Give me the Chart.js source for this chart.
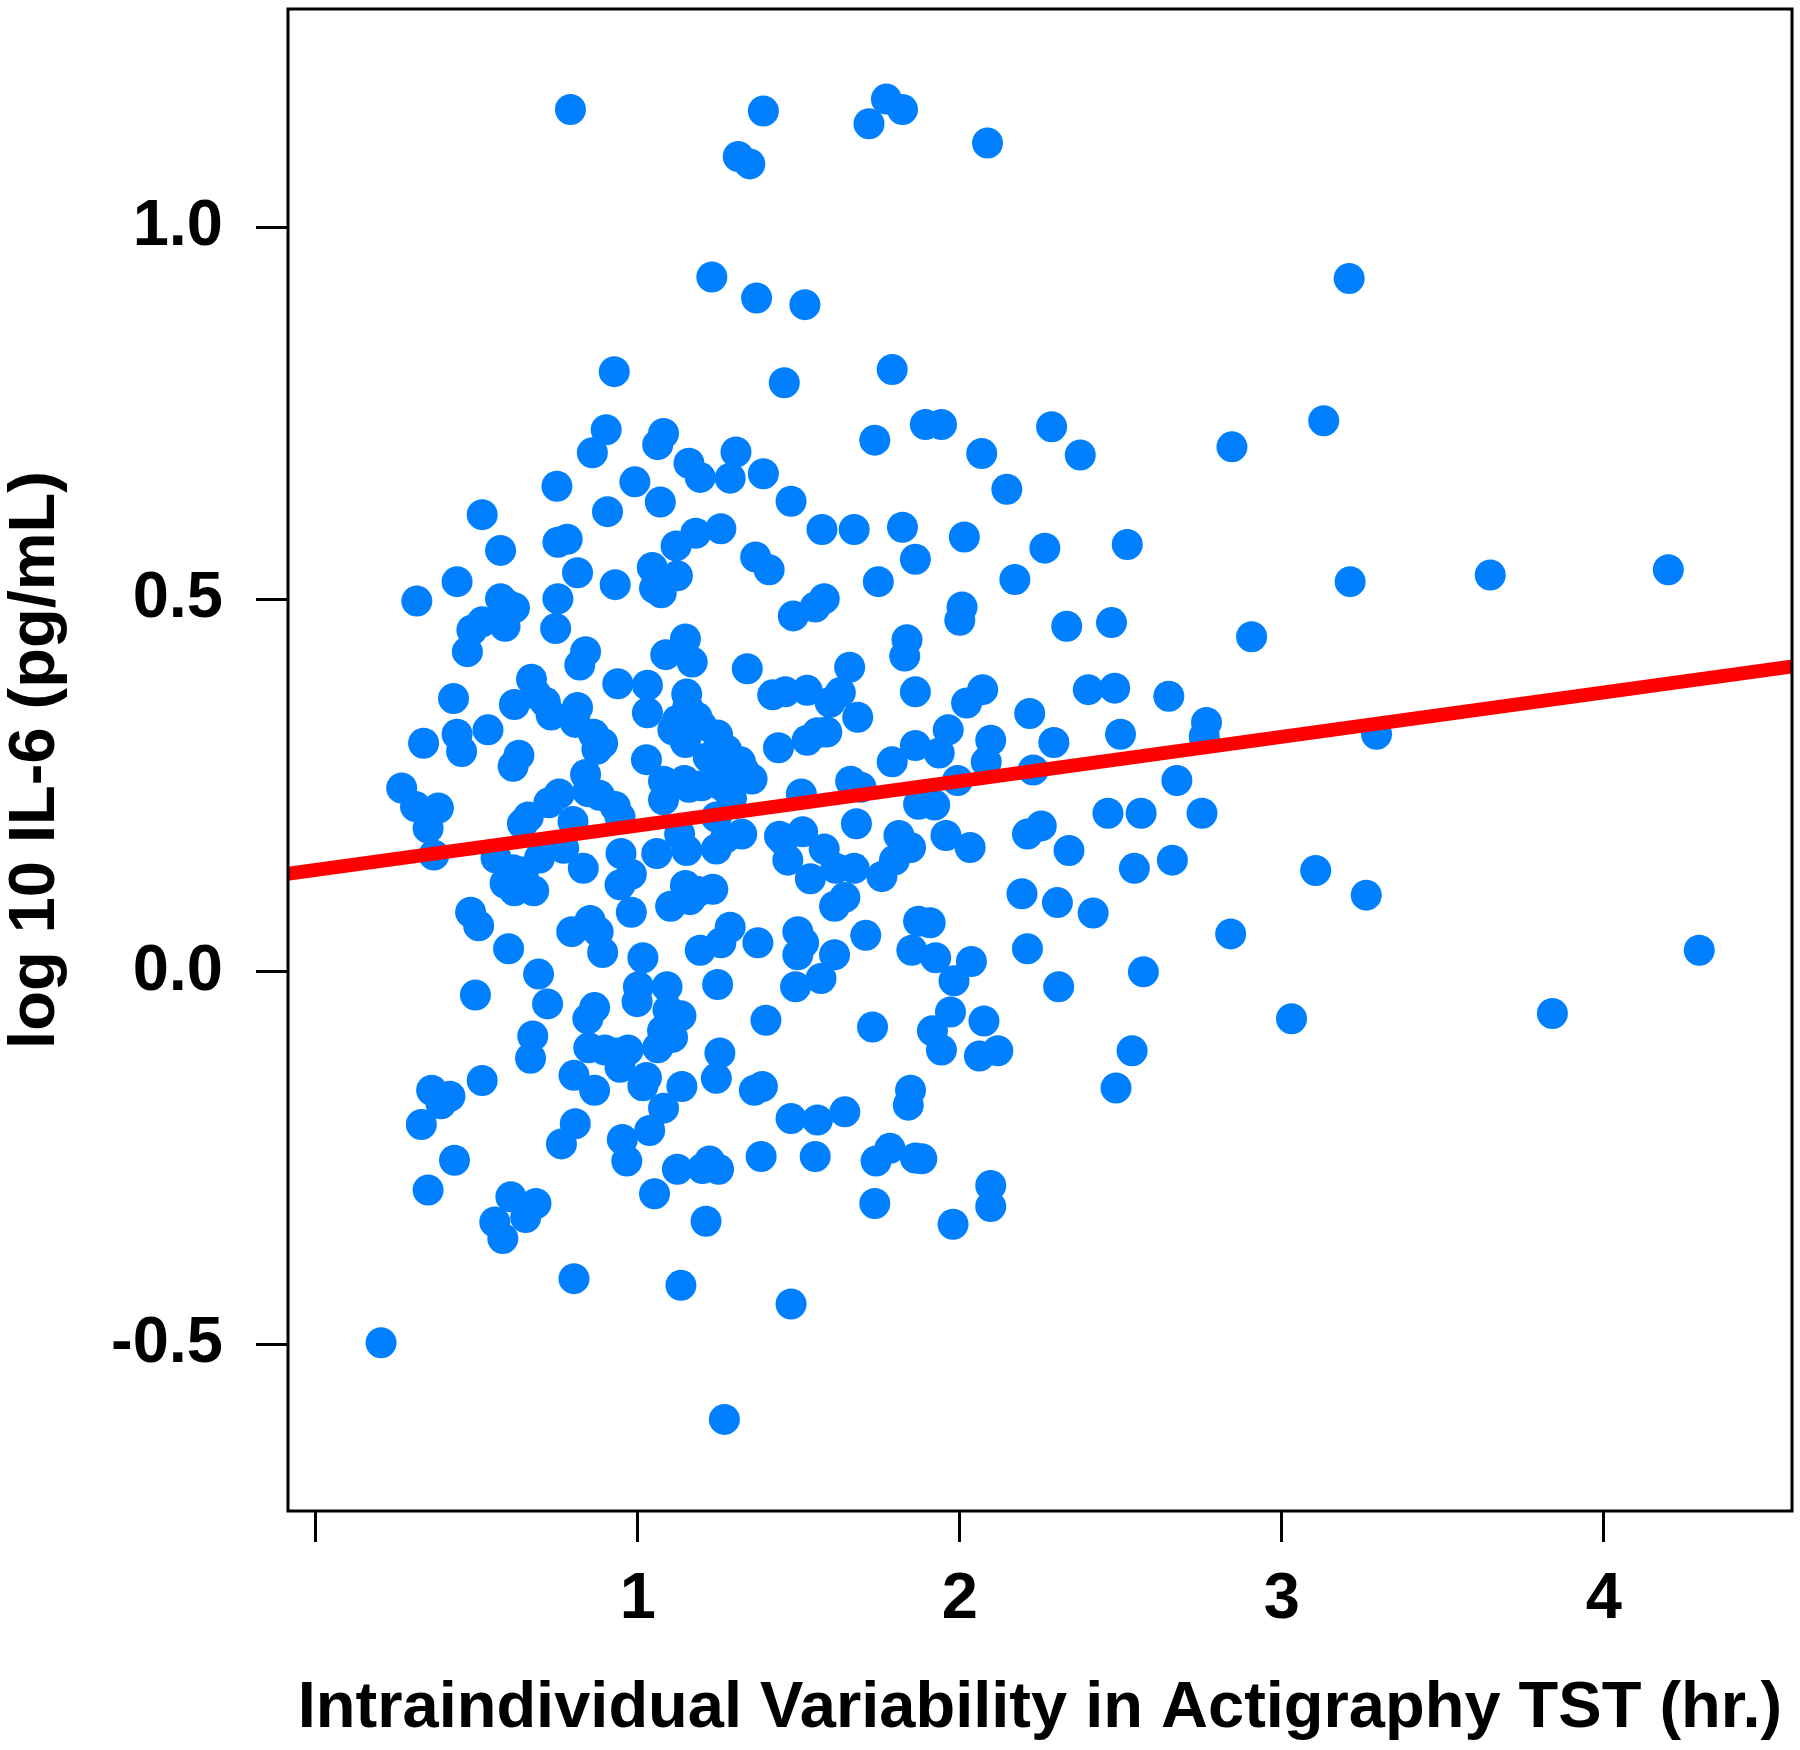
<!DOCTYPE html>
<html>
<head>
<meta charset="utf-8">
<script src="https://cdn.jsdelivr.net/npm/chart.js@4.4.1/dist/chart.umd.min.js"></script>
<style>
  html, body { margin: 0; padding: 0; background: #ffffff; }
  #wrap { width: 1800px; height: 1750px; }
</style>
</head>
<body>
<div id="wrap"><canvas id="c" width="1800" height="1750"></canvas></div>
<script>
// ---- data ----
const variabilityHr = [
  0.203,0.314,0.267,0.310,0.335,0.349,0.367,0.381,0.328,0.349,0.360,0.389,0.417,0.431,0.428,0.439,0.439,0.453,0.471,0.485,
  0.517,0.481,0.506,0.496,0.517,0.517,0.535,0.560,0.574,0.574,0.595,0.588,0.617,0.599,0.556,0.581,0.606,0.617,0.613,0.631,
  0.613,0.617,0.642,0.660,0.652,0.684,0.674,0.667,0.692,0.720,0.670,0.684,0.713,0.677,0.695,0.724,0.745,0.752,0.752,0.781,
  0.749,0.731,0.756,0.770,0.791,0.763,0.802,0.806,0.802,0.795,0.813,0.806,0.813,0.820,0.838,0.838,0.845,0.831,0.859,0.852,
  0.845,0.866,0.848,0.866,0.863,0.873,0.891,0.881,0.902,0.906,0.877,0.891,0.898,0.927,0.930,0.938,0.930,0.945,0.948,0.945,
  0.934,0.945,0.952,0.966,0.970,0.980,0.980,0.991,1.002,1.016,0.998,1.016,1.027,1.030,1.027,1.030,1.037,1.052,1.059,1.062,
  1.070,1.080,1.045,1.052,1.073,1.087,1.123,1.119,1.080,1.080,1.102,1.077,1.062,1.080,1.091,1.094,1.108,1.134,1.137,1.123,
  1.134,1.148,1.159,1.169,1.152,1.155,1.123,1.109,1.137,1.145,1.159,1.130,1.152,1.148,1.162,1.180,1.194,1.184,1.198,1.198,
  1.187,1.194,1.201,1.223,1.212,1.230,1.219,1.233,1.248,1.248,1.258,1.262,1.244,1.244,1.255,1.244,1.251,1.269,1.276,1.291,
  1.273,1.287,1.258,1.287,1.305,1.312,1.348,1.319,1.330,1.323,1.340,1.366,1.369,1.373,1.362,1.383,1.390,1.390,1.398,1.408,
  1.387,1.419,1.437,1.455,1.458,1.466,1.451,1.476,1.483,1.476,1.476,1.490,1.497,1.497,1.512,1.508,1.515,1.519,1.526,1.526,
  1.536,1.551,1.558,1.551,1.579,1.572,1.569,1.579,1.587,1.597,1.611,1.611,1.615,1.629,1.643,1.643,1.658,1.661,1.672,1.672,
  1.683,1.679,1.693,1.708,1.718,1.729,1.736,1.747,1.736,1.740,1.758,1.772,1.783,1.790,1.790,1.797,1.811,1.822,1.822,1.829,
  1.836,1.847,1.840,1.847,1.851,1.862,1.862,1.862,1.862,1.872,1.882,1.872,1.908,1.893,1.915,1.925,1.922,1.936,1.943,1.943,
  1.957,1.964,1.971,1.979,1.982,1.993,2.000,2.007,2.014,2.021,2.032,2.036,2.061,2.068,2.071,2.075,2.082,2.096,2.096,2.096,
  2.086,2.118,2.146,2.171,2.193,2.210,2.217,2.210,2.228,2.253,2.264,2.285,2.292,2.303,2.307,2.332,2.339,2.374,2.399,2.414,
  2.460,2.471,2.481,2.485,2.499,2.520,2.535,2.542,2.563,2.570,2.649,2.660,2.674,2.752,2.766,2.759,2.845,2.841,2.906,3.030,
  3.105,3.130,3.209,3.212,3.262,3.294,3.647,3.840,4.200,4.296,
  0.799,1.558,1.244,1.091,1.440,1.148,0.588,0.645,1.355
];
const log10IL6 = [
  -0.498,0.498,0.247,0.222,0.307,0.193,0.157,0.220,-0.205,-0.293,-0.159,-0.177,-0.167,-0.253,0.367,0.524,0.319,0.296,0.430,0.459,
  0.470,0.080,0.062,-0.031,0.614,-0.146,0.325,0.153,0.566,0.501,0.493,0.464,0.489,0.031,-0.336,-0.358,-0.302,0.359,0.276,0.291,
  0.137,0.109,0.199,0.208,-0.330,-0.311,-0.086,-0.116,-0.003,-0.043,0.393,0.373,0.362,0.109,0.153,0.227,0.461,0.501,0.577,0.581,
  0.652,0.345,0.239,0.166,1.158,-0.231,-0.412,-0.204,-0.139,0.054,0.355,0.335,0.536,0.412,0.430,0.265,0.242,0.139,0.697,0.069,
  -0.063,-0.048,-0.102,-0.159,0.319,0.299,0.307,0.237,0.728,0.618,0.054,0.026,-0.105,0.806,0.520,0.387,0.222,0.208,0.159,0.117,
  -0.109,-0.128,-0.225,-0.254,-0.105,0.080,0.131,0.658,-0.020,0.019,-0.040,-0.153,-0.142,0.385,0.285,0.348,-0.213,-0.298,0.159,0.708,
  0.631,0.723,0.543,0.515,0.509,0.426,0.532,0.572,0.256,0.231,0.088,-0.079,-0.102,-0.183,-0.020,-0.051,-0.088,-0.059,-0.154,-0.265,
  -0.421,0.447,0.683,0.416,0.373,0.355,0.338,0.325,0.319,0.257,0.248,0.185,0.163,0.116,0.097,0.589,0.664,0.342,0.331,0.250,
  0.108,0.029,-0.264,-0.254,-0.335,0.933,0.288,0.111,0.318,-0.017,0.595,0.250,0.208,0.165,-0.109,-0.143,-0.265,-0.601,0.298,0.233,
  0.180,0.060,0.039,0.663,0.698,1.095,1.085,0.282,0.270,0.185,0.407,0.557,0.905,0.039,-0.159,-0.248,1.156,0.669,-0.065,0.540,
  -0.154,0.372,0.301,0.791,0.376,0.150,0.177,0.632,0.478,-0.446,-0.197,-0.020,0.054,0.023,0.188,0.239,0.039,0.896,0.378,0.311,
  0.125,-0.248,-0.199,0.490,0.501,0.594,-0.009,0.165,0.322,0.362,0.088,0.023,0.139,0.375,0.100,-0.188,0.409,0.256,0.594,0.139,
  0.342,0.199,0.248,0.049,1.139,-0.074,0.714,0.524,-0.311,-0.254,0.128,1.172,-0.237,0.809,0.282,0.150,0.183,1.158,0.597,0.424,
  0.446,0.167,-0.179,-0.159,0.029,-0.250,0.554,0.376,0.304,0.225,-0.251,0.068,0.066,0.735,-0.079,0.019,0.224,0.294,0.735,-0.105,
  0.183,0.325,-0.054,-0.339,-0.012,0.257,0.472,0.490,0.584,0.361,0.167,0.014,-0.113,0.696,0.379,-0.066,0.282,0.311,-0.315,-0.287,
  1.113,-0.106,0.648,0.527,0.105,0.031,0.347,0.185,0.271,0.196,0.569,0.732,0.308,0.093,-0.020,0.464,0.163,0.694,0.379,0.079,
  0.213,0.469,0.381,-0.156,0.319,0.574,-0.106,0.139,0.213,0.000,0.370,0.150,0.257,0.213,0.335,0.316,0.705,0.051,0.450,-0.063,
  0.136,0.740,0.931,0.524,0.103,0.319,0.533,-0.056,0.540,0.029,
  0.202,0.321,0.262,0.250,0.182,0.308,0.119,0.134,0.259
];
// fitted regression line, endpoints
const fitX = [-0.2, 4.7];
const fitY = [0.125, 0.417];

const xTickValues = [0, 1, 2, 3, 4];
const xTickLabels = ['', '1', '2', '3', '4'];
const yTickValues = [-0.5, 0.0, 0.5, 1.0];
const yTickLabels = ['-0.5', '0.0', '0.5', '1.0'];

const xTitle = 'Intraindividual Variability in Actigraphy TST (hr.)';
const yTitle = 'log 10 IL-6 (pg/mL)';

// ---- chart ----
const FONT = '"Liberation Sans", Arial, Helvetica, sans-serif';
const points = variabilityHr.map((x, i) => ({ x: x, y: log10IL6[i] }));
const fitLine = fitX.map((x, i) => ({ x: x, y: fitY[i] }));

const boxPlugin = {
  id: 'box',
  afterDraw(chart) {
    const a = chart.chartArea, ctx = chart.ctx;
    ctx.save();
    ctx.strokeStyle = '#000000';
    ctx.lineWidth = 3;
    ctx.strokeRect(a.left, a.top, a.right - a.left, a.bottom - a.top);
    ctx.restore();
  }
};

function zeroPad(scale) {
  scale.paddingTop = 0; scale.paddingBottom = 0;
  scale.paddingLeft = 0; scale.paddingRight = 0;
}

new Chart(document.getElementById('c'), {
  type: 'scatter',
  data: {
    datasets: [
      {
        type: 'line',
        data: fitLine,
        borderColor: '#FF0000',
        borderWidth: 14,
        pointRadius: 0,
        fill: false,
        tension: 0,
        clip: 0,
        borderCapStyle: 'butt'
      },
      {
        data: points,
        backgroundColor: '#0080FF',
        borderWidth: 0,
        pointRadius: 15.5,
        pointHoverRadius: 15.5
      }
    ]
  },
  options: {
    responsive: false,
    animation: false,
    devicePixelRatio: 1,
    layout: { autoPadding: false, padding: { top: 9, right: 8, left: 0, bottom: 0 } },
    plugins: { legend: { display: false }, tooltip: { enabled: false } },
    scales: {
      x: {
        type: 'linear',
        min: -0.086,
        max: 4.584,
        afterBuildTicks(scale) { scale.ticks = xTickValues.map(v => ({ value: v })); },
        afterFit(scale) { scale.height = 239; zeroPad(scale); },
        border: { display: false },
        grid: { drawOnChartArea: false, drawTicks: true, tickLength: 31, tickWidth: 3, tickColor: '#000000' },
        ticks: {
          autoSkip: false, maxRotation: 0, minRotation: 0, padding: 19, color: '#000000',
          font: { family: FONT, size: 65, weight: 'bold' },
          callback(value, index) { return xTickLabels[index]; }
        },
        title: {
          display: true, text: xTitle, color: '#000000',
          font: { family: FONT, size: 65, weight: 'bold', lineHeight: 1.2 },
          padding: { top: 0, bottom: 2 }
        }
      },
      y: {
        type: 'linear',
        min: -0.724,
        max: 1.293,
        afterBuildTicks(scale) { scale.ticks = yTickValues.map(v => ({ value: v })); },
        afterFit(scale) { scale.width = 288; zeroPad(scale); },
        border: { display: false },
        grid: { drawOnChartArea: false, drawTicks: true, tickLength: 32, tickWidth: 3, tickColor: '#000000' },
        ticks: {
          autoSkip: false, padding: 33, color: '#000000',
          font: { family: FONT, size: 65, weight: 'bold' },
          callback(value, index) { return yTickLabels[index]; }
        },
        title: {
          display: true, text: yTitle, color: '#000000',
          font: { family: FONT, size: 65, weight: 'bold', lineHeight: 1.0 },
          padding: { top: 4, bottom: 0 }
        }
      }
    }
  },
  plugins: [boxPlugin]
});
</script>
</body>
</html>
